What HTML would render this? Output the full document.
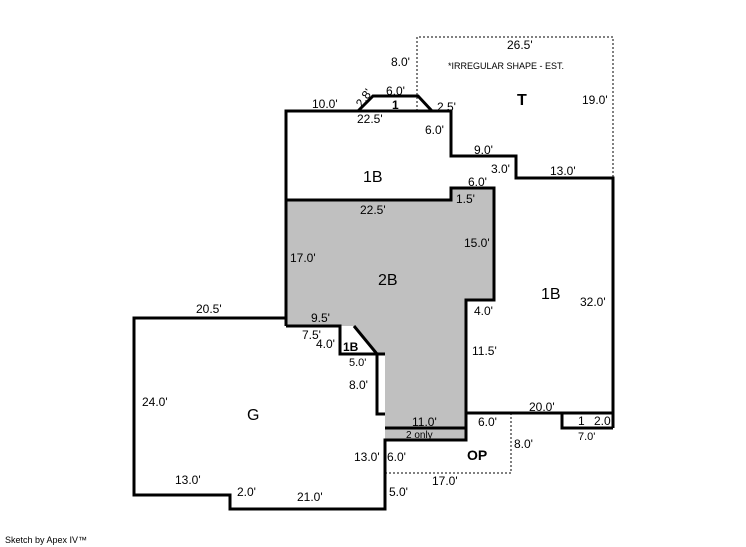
<!DOCTYPE html>
<html><head><meta charset="utf-8"><style>
html,body{margin:0;padding:0;background:#fff;}
svg{display:block;}
text{font-family:"Liberation Sans",sans-serif;font-size:12px;fill:#000;}
.b{font-weight:bold;}
</style></head><body>
<svg width="746" height="547" viewBox="0 0 746 547" xmlns="http://www.w3.org/2000/svg">
<polygon points="286,200 451,200 451,188 494,188 494,300 466,300 466,440 385,440 385,354 377,354 354,326 286,326" fill="#c0c0c0"/>
<g fill="none" stroke="#000" stroke-width="3">
<polyline points="286,326 286,111 451,111 451,156 516,156 516,178 613,178 613,428"/>
<polyline points="286,200 451,200 451,188 494,188 494,300 466,300 466,440 385,440 385,509 230,509 230,495 134,495 134,318 286,318"/>
<line x1="466" y1="413" x2="613" y2="413"/>
<polyline points="562,413 562,428 613,428"/>
<line x1="385" y1="428" x2="466" y2="428"/>
<polyline points="286,326 340,326 340,354 377,354 377,414 385,414"/>
<polyline points="354,326 377,354 385,354"/>
<polyline points="358,111 373,96 418,96 432,111"/>
</g>
<g fill="none" stroke="#000" stroke-width="1" stroke-dasharray="2,2">
<polyline points="417,111 417,37 613,37 613,178"/>
<polyline points="385,473 511,473 511,413"/>
</g>
<text x="507" y="49">26.5'</text>
<text x="391" y="66">8.0'</text>
<text x="448" y="69" style="font-size:9px">*IRREGULAR SHAPE - EST.</text>
<text x="517" y="105" class="b" style="font-size:16px">T</text>
<text x="582" y="104">19.0'</text>
<text x="312" y="108">10.0'</text>
<text x="364" y="102" text-anchor="middle" transform="rotate(-55 364 98)">2.8'</text>
<text x="386" y="95">6.0'</text>
<text x="392" y="109" class="b">1</text>
<text x="437" y="111">2.5'</text>
<text x="357" y="123">22.5'</text>
<text x="425" y="134">6.0'</text>
<text x="474" y="154">9.0'</text>
<text x="491" y="173">3.0'</text>
<text x="550" y="175">13.0'</text>
<text x="363" y="182" style="font-size:16px">1B</text>
<text x="468" y="186">6.0'</text>
<text x="456" y="203">1.5'</text>
<text x="360" y="214">22.5'</text>
<text x="464" y="247">15.0'</text>
<text x="290" y="262">17.0'</text>
<text x="378" y="285" style="font-size:16px">2B</text>
<text x="541" y="299" style="font-size:16px">1B</text>
<text x="580" y="306">32.0'</text>
<text x="196" y="313">20.5'</text>
<text x="474" y="315">4.0'</text>
<text x="311" y="322">9.5'</text>
<text x="302" y="339">7.5'</text>
<text x="316" y="348">4.0'</text>
<text x="343" y="351" class="b">1B</text>
<text x="349" y="366" style="font-size:11px">5.0'</text>
<text x="472" y="355">11.5'</text>
<text x="349" y="389">8.0'</text>
<text x="142" y="406">24.0'</text>
<text x="247" y="420" style="font-size:16px">G</text>
<text x="529" y="411">20.0'</text>
<text x="412" y="426">11.0'</text>
<text x="478" y="426">6.0'</text>
<text x="578" y="425">1</text>
<text x="594" y="425">2.0</text>
<text x="406" y="438" style="font-size:10px">2 only</text>
<text x="578" y="440" style="font-size:11px">7.0'</text>
<text x="514" y="448">8.0'</text>
<text x="354" y="461">13.0'</text>
<text x="387" y="461">6.0'</text>
<text x="467" y="460" class="b" style="font-size:14px">OP</text>
<text x="175" y="484">13.0'</text>
<text x="432" y="485">17.0'</text>
<text x="237" y="496">2.0'</text>
<text x="297" y="501">21.0'</text>
<text x="389" y="496">5.0'</text>
<text x="5" y="543" style="font-size:9px">Sketch by Apex IV™</text>
</svg>
</body></html>
